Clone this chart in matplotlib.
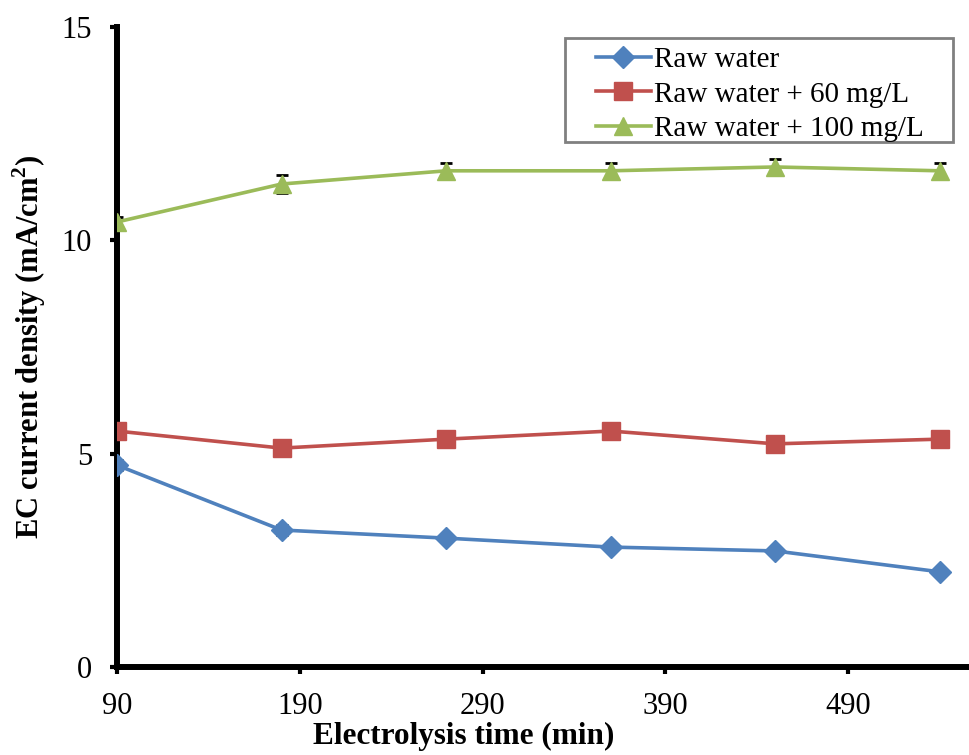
import matplotlib
matplotlib.use('Agg')
import matplotlib.pyplot as plt
from matplotlib.patches import Rectangle

plt.rcParams['font.family'] = ['Liberation Serif', 'DejaVu Serif']
plt.rcParams['mathtext.fontset'] = 'custom'
plt.rcParams['mathtext.rm'] = 'Liberation Serif'
plt.rcParams['mathtext.bf'] = 'Liberation Serif:bold'

# ---- data ----
time_min = [90, 180, 270, 360, 450, 540]
raw = [4.73, 3.21, 3.02, 2.81, 2.72, 2.23]
raw_err = [0.12, 0.12, 0.1, 0.08, 0.08, 0.08]
raw60 = [5.53, 5.13, 5.34, 5.53, 5.23, 5.34]
raw60_err = [0.08, 0.08, 0.08, 0.08, 0.08, 0.08]
raw100 = [10.43, 11.32, 11.63, 11.63, 11.72, 11.63]
raw100_err = [0.12, 0.2, 0.18, 0.18, 0.18, 0.18]

labels = ['Raw water', 'Raw water + 60 mg/L', 'Raw water + 100 mg/L']
colors = ['#4F81BD', '#C0504D', '#9BBB59']
markers = ['D', 's', '^']
msizes = [11, 13, 13]

fig = plt.figure(figsize=(9.69, 7.55), dpi=100)
ax = fig.add_axes([0.1207, 0.1166, 0.8793, 0.8476])

for y, err, lab, c, m, ms in zip([raw, raw60, raw100],
                                 [raw_err, raw60_err, raw100_err],
                                 labels, colors, markers, msizes):
    ax.errorbar(time_min, y, yerr=err, fmt='none', ecolor='black',
                elinewidth=1.2, capsize=4.5, capthick=2, zorder=2)
    ax.plot(time_min, y, color=c, lw=2.6, marker=m, markersize=ms,
            label=lab, zorder=3)

ax.set_xlim(90, 556)
ax.set_ylim(0, 15)
ax.set_xticks([90, 190, 290, 390, 490])
ax.set_yticks([0, 5, 10, 15])

ax.spines['top'].set_visible(False)
ax.spines['right'].set_visible(False)
for s in ['left', 'bottom']:
    ax.spines[s].set_linewidth(4.3)
ax.tick_params(direction='out', length=5, width=3, labelsize=22)
ax.tick_params(axis='x', pad=13)
ax.tick_params(axis='y', pad=13)

ax.set_xlabel('Electrolysis time (min)', fontsize=22.5, fontweight='bold')
ax.xaxis.set_label_coords(0.407, -0.086)
ax.set_ylabel(r'EC current density (mA/cm$^\mathbf{2}$)', fontsize=22,
              fontweight='bold', labelpad=10)

# legend: frameless legend plus a rectangle for the grey box
ax.add_patch(Rectangle((0.526, 0.820), 0.455, 0.163, transform=ax.transAxes,
                       facecolor='white', edgecolor='#808080', lw=2,
                       zorder=4, clip_on=False))
leg = ax.legend(loc='upper left', bbox_to_anchor=(0.555, 0.978),
                fontsize=21, frameon=False,
                handlelength=1.9, handletextpad=0.1, borderpad=0.2,
                labelspacing=0.27, borderaxespad=0)
leg.set_zorder(5)

fig.savefig('out.png', dpi=100)
